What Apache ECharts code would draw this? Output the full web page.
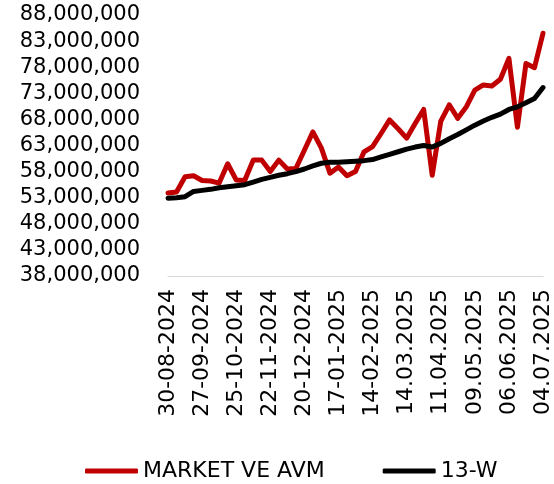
<!DOCTYPE html>
<html style="height: 100%">
<head>
    <meta charset="utf-8">
</head>
<body style="height: 100%; margin: 0">
<div id="main" style="width: 554px; height: 484px"></div>
<script type="text/javascript" src="https://cdn.jsdelivr.net/npm/echarts@6/dist/echarts.min.js"></script>
<script type="text/javascript">
    // weekly dates
    var dates = [
        '30-08-2024', '06-09-2024', '13-09-2024', '20-09-2024', '27-09-2024', '04-10-2024',
        '11-10-2024', '18-10-2024', '25-10-2024', '01-11-2024', '08-11-2024', '15-11-2024',
        '22-11-2024', '29-11-2024', '06-12-2024', '13-12-2024', '20-12-2024', '27-12-2024',
        '03-01-2025', '10-01-2025', '17-01-2025', '24-01-2025', '31-01-2025', '07-02-2025',
        '14-02-2025', '21-02-2025', '28-02-2025', '07.03.2025', '14.03.2025', '21.03.2025',
        '28.03.2025', '04.04.2025', '11.04.2025', '18.04.2025', '25.04.2025', '02.05.2025',
        '09.05.2025', '16.05.2025', '23.05.2025', '30.05.2025', '06.06.2025', '13.06.2025',
        '20.06.2025', '27.06.2025', '04.07.2025'
    ];

    // millions
    var market = [
        53.9, 54.1, 57.0, 57.2, 56.3, 56.2, 55.8, 59.5, 56.4, 56.3,
        60.2, 60.2, 58.0, 60.2, 58.5, 58.6, 62.1, 65.6, 62.5, 57.7,
        58.9, 57.2, 58.0, 61.8, 62.8, 65.3, 67.9, 66.2, 64.4, 67.2,
        69.9, 57.3, 67.6, 70.8, 68.2, 70.4, 73.6, 74.6, 74.4, 75.7,
        79.7, 66.5, 78.7, 77.9, 84.5
    ];
    var avg13w = [
        52.9, 53.0, 53.2, 54.2, 54.4, 54.6, 54.9, 55.1, 55.3, 55.5,
        56.0, 56.5, 56.9, 57.3, 57.6, 58.0, 58.5, 59.1, 59.6, 59.8,
        59.8, 59.9, 60.0, 60.1, 60.3, 60.8, 61.3, 61.8, 62.3, 62.7,
        63.0, 62.7, 63.4, 64.3, 65.1, 66.0, 66.9, 67.7, 68.4, 69.0,
        69.9, 70.4, 71.2, 72.0, 74.1
    ];

    var toUnits = function (arr) {
        return arr.map(function (v) { return Math.round(v * 1000000); });
    };

    var font = 'DejaVu Sans';
    var chart = echarts.init(document.getElementById('main'));
    chart.setOption({
        animation: false,
        textStyle: { fontFamily: font },
        grid: { left: 168, right: 9, top: 15, bottom: 208, containLabel: false },
        legend: {
            top: 455,
            left: 80,
            icon: 'roundRect',
            itemWidth: 53,
            itemHeight: 5,
            itemGap: 58,
            textStyle: { fontFamily: font, fontSize: 22, color: '#000' },
            data: ['MARKET VE AVM', '13-W']
        },
        xAxis: {
            type: 'category',
            data: dates,
            boundaryGap: false,
            axisLine: { lineStyle: { color: '#d9d9d9', width: 1 } },
            axisTick: { show: false },
            axisLabel: {
                interval: 3,
                rotate: 90,
                margin: 13,
                color: '#000',
                fontSize: 22,
                fontFamily: font
            }
        },
        yAxis: {
            type: 'value',
            min: 38000000,
            max: 88000000,
            interval: 5000000,
            splitLine: { show: false },
            axisLine: { show: false },
            axisTick: { show: false },
            axisLabel: {
                color: '#000',
                fontSize: 21,
                fontFamily: font,
                margin: 28,
                formatter: function (v) {
                    return v.toString().replace(/\B(?=(\d{3})+(?!\d))/g, ',');
                }
            }
        },
        series: [
            {
                name: 'MARKET VE AVM',
                type: 'line',
                data: toUnits(market),
                symbol: 'none',
                color: '#c00000',
                lineStyle: { width: 5, color: '#c00000', cap: 'round', join: 'round' }
            },
            {
                name: '13-W',
                type: 'line',
                data: toUnits(avg13w),
                symbol: 'none',
                color: '#000000',
                lineStyle: { width: 5, color: '#000000', cap: 'round', join: 'round' }
            }
        ]
    });
</script>
</body>
</html>
